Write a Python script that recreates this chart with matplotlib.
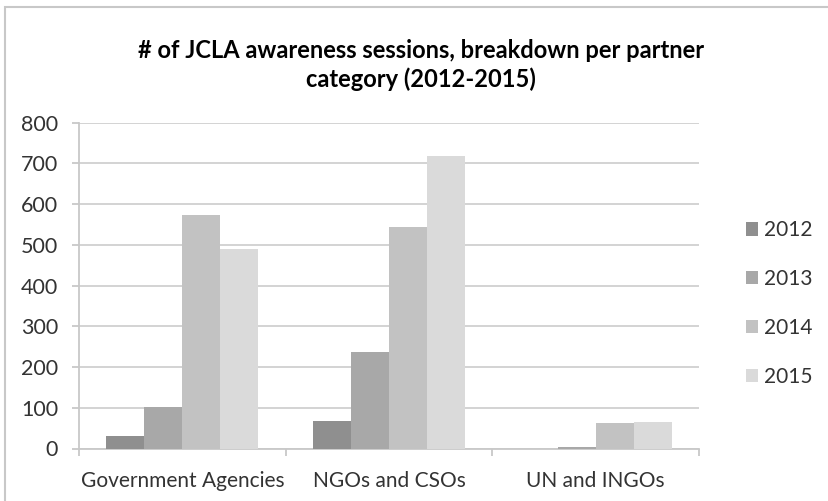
import numpy as np
import matplotlib
matplotlib.use("Agg")
import matplotlib.pyplot as plt
from matplotlib.patches import Rectangle

# sessions per partner category and year
categories = ["Government Agencies", "NGOs and CSOs", "UN and INGOs"]
years = ["2012", "2013", "2014", "2015"]
sessions = {
    "2012": [31, 68, 0],
    "2013": [103, 238, 4],
    "2014": [573, 543, 63],
    "2015": [490, 718, 66],
}
y_ticks = [0, 100, 200, 300, 400, 500, 600, 700, 800]

colors = ["#8f8f8f", "#a8a8a8", "#c2c2c2", "#dadada"]
text_col = "#333333"
plt.rcParams["font.family"] = ["Lato", "DejaVu Sans"]

fig = plt.figure(figsize=(8.29, 5.01), dpi=100)
fig.patch.set_facecolor("white")

# outer chart frame
fig.patches.append(Rectangle((5 / 829, -0.1), 1.2, 1.1 - 7 / 501,
                             transform=fig.transFigure, fill=False,
                             edgecolor="#c8c8c8", linewidth=1.5))

ax = fig.add_axes([79 / 829, 52.5 / 501, 620 / 829, 325.8 / 501])

x = np.arange(len(categories))
w = 0.184
for i, yr in enumerate(years):
    ax.bar(x + (i - 1.5) * w, sessions[yr], width=w, color=colors[i],
           edgecolor="none", label=yr, zorder=3)

ax.set_xlim(-0.5, len(categories) - 0.5)
ax.set_ylim(0, 800)
ax.set_yticks(y_ticks)
ax.set_yticklabels([str(v) for v in y_ticks])
ax.set_xticks(x)
ax.set_xticklabels(categories)
ax.set_xticks(np.arange(len(categories) + 1) - 0.5, minor=True)

ax.grid(axis="y", color="#d0d0d0", linewidth=1.3, zorder=0)
for s in ["top", "right"]:
    ax.spines[s].set_visible(False)
for s in ["left", "bottom"]:
    ax.spines[s].set_color("#c8c8c8")
    ax.spines[s].set_linewidth(1.3)

ax.tick_params(axis="y", length=5, width=1.3, color="#c8c8c8", pad=10,
               labelsize=15.5, labelcolor=text_col)
ax.tick_params(axis="x", which="major", length=0, pad=16,
               labelsize=15, labelcolor=text_col)
ax.tick_params(axis="x", which="minor", length=5, width=1.3, color="#c8c8c8")

fig.text(0.508, 1 - 65 / 501,
         "# of JCLA awareness sessions, breakdown per partner\ncategory (2012-2015)",
         ha="center", va="center", fontsize=17, fontweight="bold",
         color="black", linespacing=1.3)

leg = ax.legend(loc="center left", bbox_to_anchor=(1.045, 0.445), frameon=False,
                fontsize=15, handlelength=0.6, handleheight=0.6,
                handletextpad=0.3, labelspacing=1.38)
for t in leg.get_texts():
    t.set_color(text_col)

fig.savefig("out.png", dpi=100, facecolor="white")
